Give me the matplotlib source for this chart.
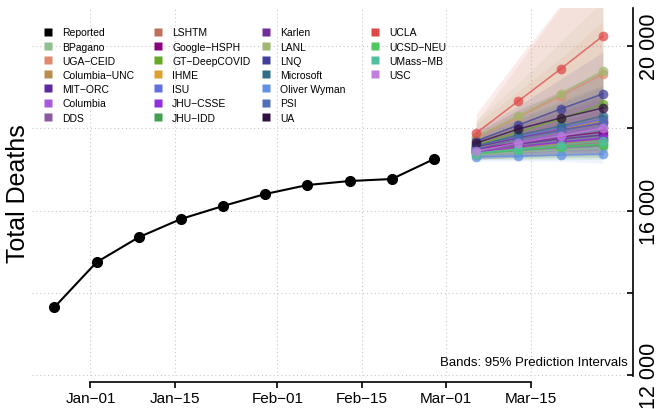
import matplotlib
matplotlib.use('Agg')
import matplotlib.pyplot as plt
import matplotlib.dates as mdates
from matplotlib.lines import Line2D
import datetime as dt

plt.rcParams['font.family'] = ['Liberation Sans', 'DejaVu Sans']

# ---------------- data ----------------
obs_dates = ['2020-12-26', '2021-01-02', '2021-01-09', '2021-01-16', '2021-01-23',
             '2021-01-30', '2021-02-06', '2021-02-13', '2021-02-20', '2021-02-27']
obs_values = [13646, 14741, 15349, 15793, 16110, 16401, 16620, 16717, 16766, 17252]

fc_dates = ['2021-03-06', '2021-03-13', '2021-03-20', '2021-03-27']

models = ['BPagano', 'UGA\u2212CEID', 'Columbia\u2212UNC', 'MIT\u2212ORC', 'Columbia', 'DDS',
          'LSHTM', 'Google\u2212HSPH', 'GT\u2212DeepCOVID', 'IHME', 'ISU', 'JHU\u2212CSSE',
          'JHU\u2212IDD', 'Karlen', 'LANL', 'LNQ', 'Microsoft', 'Oliver Wyman', 'PSI', 'UA',
          'UCLA', 'UCSD\u2212NEU', 'UMass\u2212MB', 'USC']

model_colors = ['#90c090', '#e08a6e', '#b88e4f', '#5c2a9c', '#a85ad8', '#8a5a9e',
                '#c0705a', '#880080', '#68a828', '#e0a030', '#6070e0', '#9030e0',
                '#40a050', '#702e98', '#a0b870', '#40409a', '#306e88', '#6090e8',
                '#5070b8', '#301040', '#e04848', '#50c860', '#50c0a0', '#c080e0']

fc_median = {
    'BPagano':          [17350, 17422, 17471, 17520],
    'UGA\u2212CEID':    [17763, 18274, 18784, 19319],
    'Columbia\u2212UNC':[17447, 17544, 17617, 17714],
    'MIT\u2212ORC':     [17471, 17617, 17739, 17836],
    'Columbia':         [17471, 17666, 17860, 18030],
    'DDS':              [17447, 17568, 17666, 17739],
    'LSHTM':            [17422, 17520, 17593, 17666],
    'Google\u2212HSPH': [17495, 17641, 17787, 17909],
    'GT\u2212DeepCOVID':[17593, 17909, 18225, 18590],
    'IHME':             [17520, 17739, 17957, 18176],
    'ISU':              [17544, 17787, 18006, 18225],
    'JHU\u2212CSSE':    [17422, 17544, 17666, 17763],
    'JHU\u2212IDD':     [17398, 17471, 17544, 17593],
    'Karlen':           [17544, 17763, 17957, 18128],
    'LANL':             [17787, 18305, 18833, 19392],
    'LNQ':              [17690, 18079, 18469, 18833],
    'Microsoft':        [17568, 17836, 18055, 18298],
    'Oliver Wyman':     [17301, 17325, 17350, 17374],
    'PSI':              [17495, 17739, 17933, 18152],
    'UA':               [17641, 17982, 18250, 18493],
    'UCLA':             [17885, 18663, 19441, 20243],
    'UCSD\u2212NEU':    [17374, 17471, 17544, 17617],
    'UMass\u2212MB':    [17398, 17495, 17593, 17690],
    'USC':              [17447, 17641, 17812, 18006],
}

fc_lower = {
    'BPagano':          [17250, 17250, 17250, 17250],
    'UGA\u2212CEID':    [17450, 17700, 17950, 18150],
    'Columbia\u2212UNC':[17250, 17250, 17300, 17350],
    'MIT\u2212ORC':     [17350, 17400, 17450, 17450],
    'Columbia':         [17250, 17300, 17350, 17400],
    'DDS':              [17300, 17300, 17300, 17300],
    'LSHTM':            [17300, 17350, 17350, 17400],
    'Google\u2212HSPH': [17300, 17350, 17400, 17400],
    'GT\u2212DeepCOVID':[17350, 17500, 17650, 17800],
    'IHME':             [17350, 17450, 17550, 17650],
    'ISU':              [17300, 17400, 17500, 17550],
    'JHU\u2212CSSE':    [17250, 17300, 17350, 17350],
    'JHU\u2212IDD':     [17250, 17300, 17300, 17300],
    'Karlen':           [17350, 17450, 17500, 17550],
    'LANL':             [17400, 17600, 17800, 18000],
    'LNQ':              [17450, 17650, 17800, 17950],
    'Microsoft':        [17350, 17450, 17550, 17650],
    'Oliver Wyman':     [17200, 17200, 17200, 17150],
    'PSI':              [17300, 17400, 17450, 17500],
    'UA':               [17400, 17550, 17650, 17700],
    'UCLA':             [17500, 17800, 18050, 18250],
    'UCSD\u2212NEU':    [17250, 17250, 17250, 17250],
    'UMass\u2212MB':    [17250, 17300, 17350, 17350],
    'USC':              [17250, 17300, 17350, 17350],
}

fc_upper = {
    'BPagano':          [17450, 17600, 17700, 17800],
    'UGA\u2212CEID':    [18100, 18900, 19700, 20600],
    'Columbia\u2212UNC':[18150, 19550, 20950, 22400],
    'MIT\u2212ORC':     [17600, 17850, 18050, 18250],
    'Columbia':         [17700, 18050, 18400, 18700],
    'DDS':              [17600, 17850, 18050, 18250],
    'LSHTM':            [17550, 17700, 17850, 17950],
    'Google\u2212HSPH': [17700, 17950, 18200, 18450],
    'GT\u2212DeepCOVID':[17850, 18350, 18850, 19400],
    'IHME':             [17700, 18050, 18400, 18750],
    'ISU':              [17800, 18200, 18600, 19000],
    'JHU\u2212CSSE':    [17600, 17800, 18000, 18200],
    'JHU\u2212IDD':     [17550, 17700, 17800, 17950],
    'Karlen':           [17750, 18100, 18450, 18800],
    'LANL':             [18200, 19100, 20100, 21100],
    'LNQ':              [17950, 18550, 19200, 19850],
    'Microsoft':        [17800, 18250, 18650, 19050],
    'Oliver Wyman':     [17400, 17450, 17500, 17600],
    'PSI':              [17700, 18100, 18500, 18900],
    'UA':               [17900, 18450, 18900, 19400],
    'UCLA':             [18350, 19700, 21000, 22300],
    'UCSD\u2212NEU':    [17500, 17700, 17850, 18000],
    'UMass\u2212MB':    [17550, 17750, 17900, 18100],
    'USC':              [17650, 18000, 18350, 18700],
}

legend_columns = [
    ['Reported', 'BPagano', 'UGA\u2212CEID', 'Columbia\u2212UNC', 'MIT\u2212ORC', 'Columbia', 'DDS'],
    ['LSHTM', 'Google\u2212HSPH', 'GT\u2212DeepCOVID', 'IHME', 'ISU', 'JHU\u2212CSSE', 'JHU\u2212IDD'],
    ['Karlen', 'LANL', 'LNQ', 'Microsoft', 'Oliver Wyman', 'PSI', 'UA'],
    ['UCLA', 'UCSD\u2212NEU', 'UMass\u2212MB', 'USC'],
]

x_tick_dates = ['2021-01-01', '2021-01-15', '2021-02-01', '2021-02-15', '2021-03-01', '2021-03-15']
x_tick_labels = ['Jan\u221201', 'Jan\u221215', 'Feb\u221201', 'Feb\u221215', 'Mar\u221201', 'Mar\u221215']
y_ticks = [12000, 14000, 16000, 18000, 20000]
y_tick_labels = ['12 000', '', '16 000', '', '20 000']

# ---------------- plot ----------------
W, H = 657, 410
fig = plt.figure(figsize=(W / 100, H / 100), dpi=100)
ax = fig.add_axes([32 / W, 1 - 377 / H, (633 - 32) / W, (377 - 9) / H])


def dnum(s):
    return mdates.date2num(dt.datetime.strptime(s, '%Y-%m-%d'))


obs_x = [dnum(d) for d in obs_dates]
fc_x = [dnum(d) for d in fc_dates]
xt = [dnum(d) for d in x_tick_dates]
x0 = dnum('2021-01-01')

ax.set_xlim(x0 - 9.7, x0 + 90)
ax.set_ylim(11976, 20924)

grid_kw = dict(color='#c8c8c8', lw=0.8, ls=(0, (1, 2.5)), zorder=0)
for yv in y_ticks:
    ax.axhline(yv, **grid_kw)
for xv in xt:
    ax.axvline(xv, **grid_kw)

color_of = dict(zip(models, model_colors))
for m in models:
    ax.fill_between(fc_x, fc_lower[m], fc_upper[m], color=color_of[m], alpha=0.1, lw=0, zorder=1)
for m in models:
    ax.plot(fc_x, fc_median[m], color=color_of[m], lw=1.1, alpha=0.75,
            marker='o', ms=7, mec='none', zorder=2)

ax.plot(obs_x, obs_values, color='black', lw=1.5, marker='o', ms=7, zorder=3)

# axes styling
for s in ['left', 'top']:
    ax.spines[s].set_visible(False)
ax.spines['bottom'].set_bounds(xt[0], xt[-1])
ax.spines['bottom'].set_position(('outward', 4))
ax.spines['bottom'].set_linewidth(1.2)
ax.spines['right'].set_linewidth(1.2)

ax.set_xticks(xt)
ax.set_xticklabels(x_tick_labels)
ax.tick_params(axis='x', direction='out', length=4, width=1.2, labelsize=11, pad=3)

ax.yaxis.tick_right()
ax.set_yticks(y_ticks)
ax.set_yticklabels(y_tick_labels)
ax.tick_params(axis='y', direction='in', length=4, width=1.2, labelsize=15.5, pad=4.5,
               labelrotation=90)
for lab in ax.get_yticklabels():
    lab.set_va('center')
    lab.set_ha('left')

fig.text(18 / W, 1 - 194 / H, 'Total Deaths', rotation=90, fontsize=18,
         ha='center', va='center')
fig.text(628 / W, 1 - 363 / H, 'Bands: 95% Prediction Intervals', fontsize=9.5,
         ha='right', va='center')

# legend (4 columns, equally spaced)
col_centers = [47.5, 157.5, 265.5, 374.5]
all_colors = dict(color_of)
all_colors['Reported'] = '#000000'
for cx, labels in zip(col_centers, legend_columns):
    handles = [Line2D([], [], ls='none', marker='s', ms=6, color=all_colors[l], mec='none')
               for l in labels]
    fig.legend(handles, labels, loc='upper left',
               bbox_to_anchor=((cx - 4.15) / W, 1 - 28.5 / H),
               bbox_transform=fig.transFigure, frameon=False, borderpad=0,
               borderaxespad=0, handlelength=0.8, handleheight=0.8,
               handletextpad=1.0, labelspacing=0.4, fontsize=7.5)

fig.savefig('out.png', dpi=100)
